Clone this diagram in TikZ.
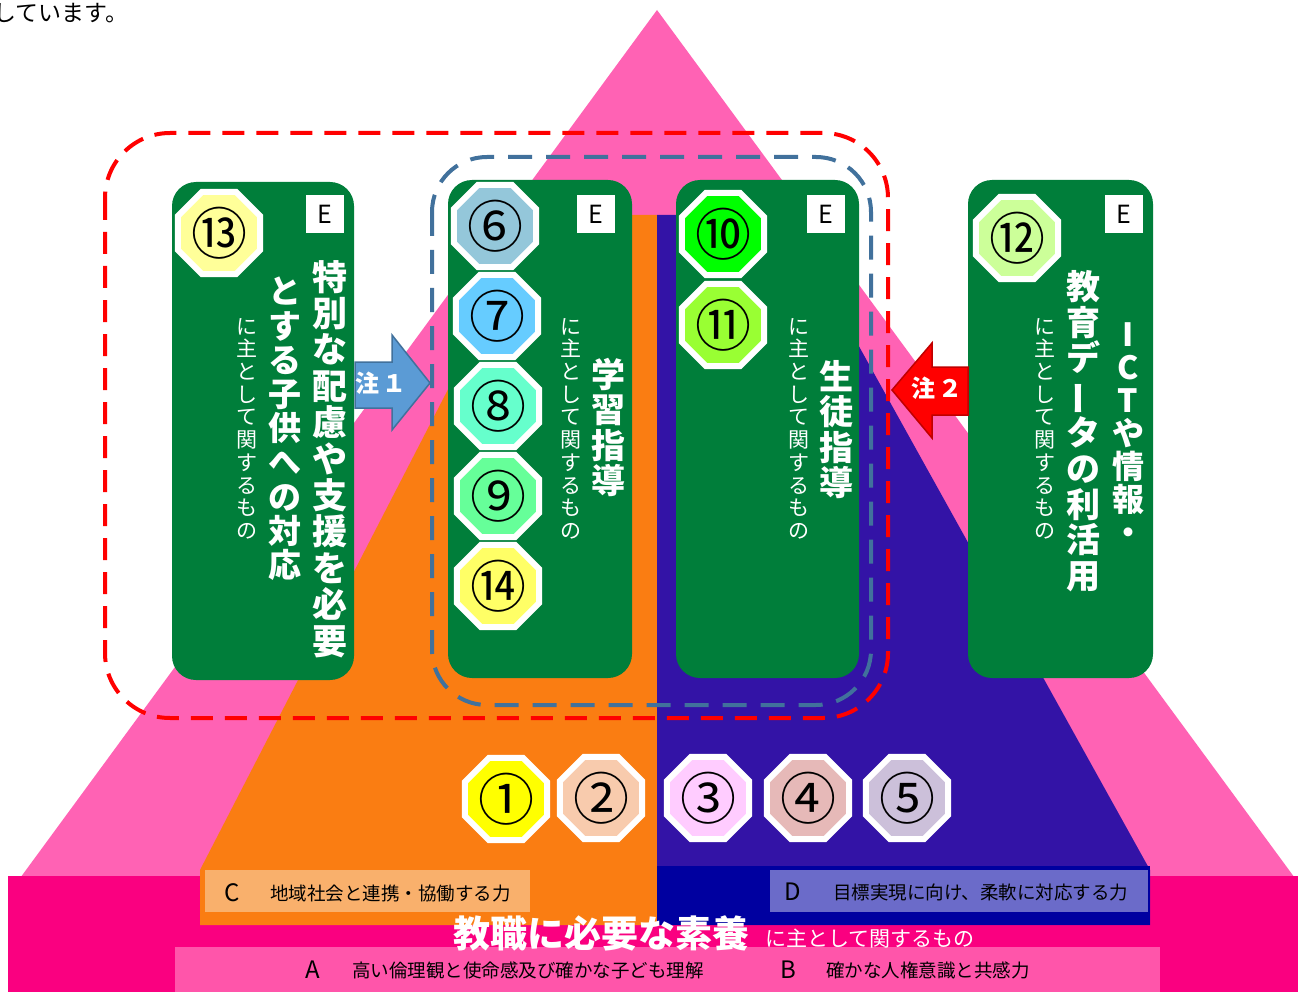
\documentclass[tikz,border=0pt]{standalone}
\usepackage{fontspec}
\usepackage{graphicx}
\newfontfamily\jp{Noto Sans CJK JP}
\usetikzlibrary{shapes.geometric}
\definecolor{pinkA}{RGB}{255,98,180}
\definecolor{pinkB}{RGB}{250,0,128}
\definecolor{pinkC}{RGB}{255,85,170}
\definecolor{orangeA}{RGB}{250,125,18}
\definecolor{blueA}{RGB}{51,19,166}
\definecolor{blueB}{RGB}{0,0,160}
\definecolor{cboxc}{RGB}{249,176,108}
\definecolor{dboxc}{RGB}{107,107,201}
\definecolor{gboxc}{RGB}{0,126,58}
\definecolor{dashred}{RGB}{255,0,0}
\definecolor{dashblue}{RGB}{65,113,156}
\definecolor{arrblue}{RGB}{91,155,213}
\definecolor{arrblueb}{RGB}{65,113,156}
\definecolor{arrred}{RGB}{255,0,0}
\definecolor{arrredb}{RGB}{192,0,0}
\definecolor{oA}{RGB}{255,255,0}
\definecolor{oB}{RGB}{248,203,173}
\definecolor{oC}{RGB}{255,204,255}
\definecolor{oD}{RGB}{230,185,184}
\definecolor{oE}{RGB}{204,192,218}
\definecolor{oF}{RGB}{148,199,218}
\definecolor{oG}{RGB}{102,204,255}
\definecolor{oH}{RGB}{102,255,204}
\definecolor{oI}{RGB}{102,255,153}
\definecolor{oJ}{RGB}{0,255,0}
\definecolor{oK}{RGB}{153,255,51}
\definecolor{oL}{RGB}{204,255,153}
\definecolor{oM}{RGB}{255,255,153}
\definecolor{oN}{RGB}{255,255,102}
\begin{document}
\begin{tikzpicture}[x=1pt,y=-1pt,
  oct/.style={regular polygon, regular polygon sides=8, minimum size=89, inner sep=0, draw=white, line width=6},
  num/.style={font=\jp\fontsize{56}{56}\selectfont, text=black, inner sep=0},
  greenbox/.style={fill=gboxc, rounded corners=24, minimum height=498, inner sep=0},
  ebox/.style={fill=white, minimum size=38, inner sep=0, font=\jp\fontsize{25}{25}\selectfont},
  bigv/.style={text=white, align=center, inner sep=0, anchor=north},
  smallv/.style={text=white, align=center, inner sep=0, anchor=north, font=\jp\fontsize{21}{22.7}\selectfont},
  letter/.style={font=\jp\fontsize{24}{24}\selectfont, inner sep=0},
  lbltext/.style={font=\jp\fontsize{18.5}{18.5}\selectfont, inner sep=0, anchor=west},
  note/.style={text=white, font=\jp\bfseries\fontsize{24}{24}\selectfont, inner sep=0}
]
\useasboundingbox (0,0) rectangle (1298,992);
\fill[white] (0,0) rectangle (1298,992);

% top text
\node[anchor=west, inner sep=0, font=\jp\fontsize{23}{23}\selectfont] (toptext) at (-7,13) {しています。};

% pyramid background
\fill[pinkA] (657,10) -- (15,885) -- (1300,885) -- cycle;
\fill[pinkB] (8,876) rectangle (1298,992);
\fill[pinkC] (175,947) rectangle (1160,992);
\fill[orangeA] (538,215) -- (657,215) -- (657,925) -- (200,925) -- (200,870) -- cycle;
\fill[blueA] (657,215) -- (786,215) -- (1150,870) -- (1150,925) -- (657,925) -- cycle;
\fill[blueB] (657,866) rectangle (1150,925);
\node[fill=cboxc, minimum width=325, minimum height=42, inner sep=0, anchor=north west] (cbox) at (205,870) {};
\node[fill=dboxc, minimum width=378, minimum height=42, inner sep=0, anchor=north west] (dbox) at (770,870) {};

% bottom labels
\node[letter] (lC) at (232,893) {C};
\node[lbltext] (tC) at (270,893) {地域社会と連携・協働する力};
\node[letter] (lD) at (793,892) {D};
\node[lbltext] (tD) at (833,892) {目標実現に向け、柔軟に対応する力};
\node[letter] (lA) at (313,970) {A};
\node[lbltext] (tA) at (352,970) {高い倫理観と使命感及び確かな子ども理解};
\node[letter] (lB) at (788,970) {B};
\node[lbltext] (tB) at (826,970) {確かな人権意識と共感力};
\node[text=white, inner sep=0, font=\jp\bfseries\fontsize{37}{37}\selectfont] (kyoshoku) at (601,933) {教職に必要な素養};
\node[text=white, inner sep=0, anchor=west, font=\jp\fontsize{21}{21}\selectfont] (kyoshoku2) at (765,939) {に主として関するもの};

% bottom octagons
\node[oct, fill=oA] (o1) at (506,799) {};
\node[num] (n1) at (o1) {①};
\node[oct, fill=oB] (o2) at (601,798) {};
\node[num] (n2) at (o2) {②};
\node[oct, fill=oC] (o3) at (708,798) {};
\node[num] (n3) at (o3) {③};
\node[oct, fill=oD] (o4) at (808,798) {};
\node[num] (n4) at (o4) {④};
\node[oct, fill=oE] (o5) at (907,798) {};
\node[num] (n5) at (o5) {⑤};

% dashed groups
\draw[dashred, line width=4, dash pattern=on 22 off 12, rounded corners=65] (105,133) rectangle (888,718);
\draw[dashblue, line width=4, dash pattern=on 24 off 14, rounded corners=55] (432,157) rectangle (871,705);

% green boxes
\node[greenbox, minimum width=182] (b1) at (263,431) {};
\node[greenbox, minimum width=184] (b2) at (540,429) {};
\node[greenbox, minimum width=183] (b3) at (767.5,429) {};
\node[greenbox, minimum width=185] (b4) at (1060.5,429) {};

\node[ebox] (e1) at (325,214) {E};
\node[ebox] (e2) at (596,214) {E};
\node[ebox] (e3) at (825.5,214) {E};
\node[ebox] (e4) at (1123.5,214) {E};

% box octagons
\node[oct, fill=oM] (o13) at (219,233) {};
\node[num] (n13) at (o13) {⑬};
\node[oct, fill=oF] (o6) at (495,226) {};
\node[num] (n6) at (o6) {⑥};
\node[oct, fill=oG] (o7) at (497,316) {};
\node[num] (n7) at (o7) {⑦};
\node[oct, fill=oH] (o8) at (498,406) {};
\node[num] (n8) at (o8) {⑧};
\node[oct, fill=oI] (o9) at (498,496) {};
\node[num] (n9) at (o9) {⑨};
\node[oct, fill=oN] (o14) at (498,586) {};
\node[num] (n14) at (o14) {⑭};
\node[oct, fill=oJ] (o10) at (723,234) {};
\node[num] (n10) at (o10) {⑩};
\node[oct, fill=oK] (o11) at (723,325) {};
\node[num] (n11) at (o11) {⑪};
\node[oct, fill=oL] (o12) at (1017,238) {};
\node[num] (n12) at (o12) {⑫};

% vertical texts
\node[bigv, font=\jp\bfseries\fontsize{35}{36.4}\selectfont] (v1a) at (330,260) {特\\別\\な\\配\\慮\\や\\支\\援\\を\\必\\要};
\node[bigv, font=\jp\bfseries\fontsize{33}{34.2}\selectfont] (v1b) at (285,277) {と\\す\\る\\子\\供\\へ\\の\\対\\応};
\node[smallv] (v1c) at (247,318) {に\\主\\と\\し\\て\\関\\す\\る\\も\\の};

\node[bigv, font=\jp\bfseries\fontsize{34}{35.5}\selectfont] (v2a) at (608,358) {学\\習\\指\\導};
\node[smallv] (v2c) at (571,318) {に\\主\\と\\し\\て\\関\\す\\る\\も\\の};

\node[bigv, font=\jp\bfseries\fontsize{34}{35.5}\selectfont] (v3a) at (836,360) {生\\徒\\指\\導};
\node[smallv] (v3c) at (799,318) {に\\主\\と\\し\\て\\関\\す\\る\\も\\の};

\node[bigv, font=\jp\bfseries\fontsize{32}{33}\selectfont] (v4a) at (1128,322) {I\\C\\T\\や\\情\\報\\・};
\node[bigv, font=\jp\bfseries\fontsize{34}{35.8}\selectfont] (v4b) at (1083,270) {教\\育\\デ\\\rotatebox[origin=c]{90}{ー}\\タ\\の\\利\\活\\用};
\node[smallv] (v4c) at (1045,318) {に\\主\\と\\し\\て\\関\\す\\る\\も\\の};

% note arrows
\filldraw[fill=arrblue, draw=arrblueb, line width=1.5] (355,362) -- (392,362) -- (392,335) -- (430,383) -- (392,430) -- (392,408) -- (355,408) -- cycle;
\node[note] (note1) at (381,383) {注\,１};
\filldraw[fill=arrred, draw=arrredb, line width=1.5] (892,390) -- (932,343) -- (932,367) -- (968,367) -- (968,415) -- (932,415) -- (932,438) -- cycle;
\node[note] (note2) at (937,388) {注\,２};
\end{tikzpicture}
\end{document}
